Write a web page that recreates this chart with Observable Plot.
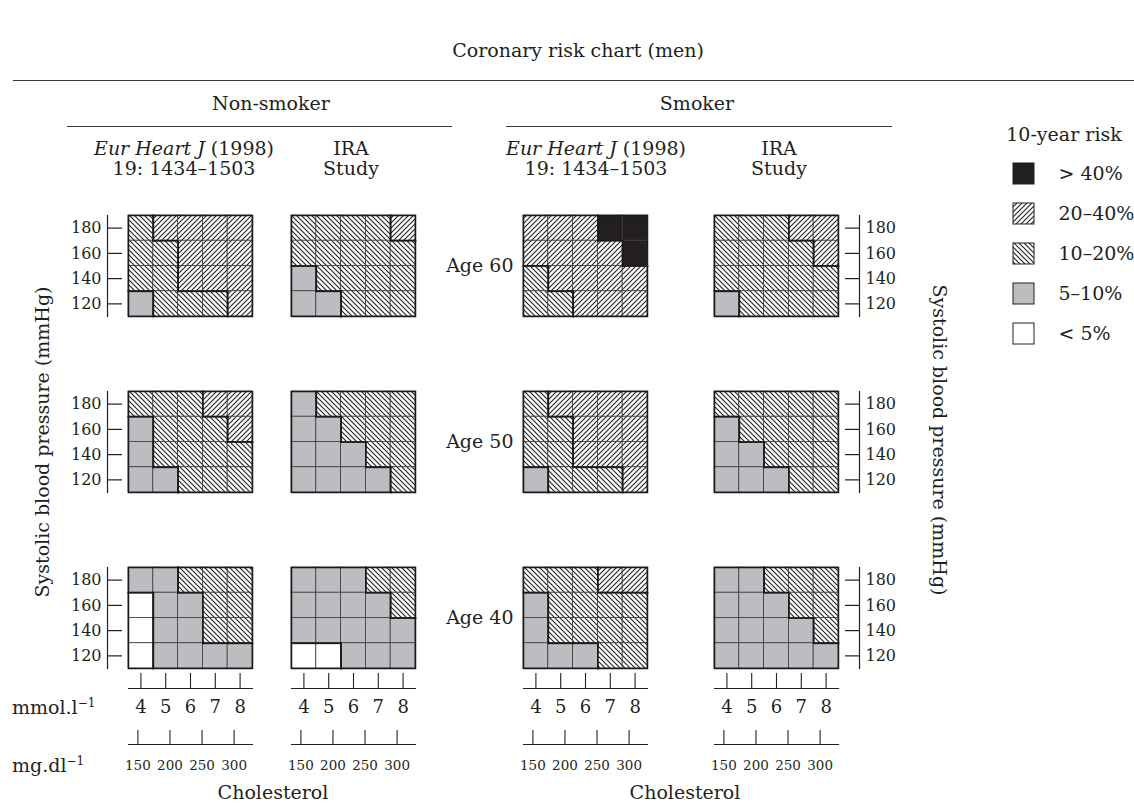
<!DOCTYPE html>
<html><head><meta charset="utf-8">
<script src="https://cdn.jsdelivr.net/npm/d3@7"></script>
<script src="https://cdn.jsdelivr.net/npm/@observablehq/plot@0.6"></script>
<style>
html,body{margin:0;padding:0;background:#fff;}
#root{position:relative;width:1134px;height:803px;overflow:hidden;font-family:"DejaVu Serif",serif;color:#231f20;background:#fff;}
.t{position:absolute;transform:translate(-50%,-50%);white-space:nowrap;font-size:19px;line-height:20px;text-align:center;}
.l{position:absolute;transform:translate(0,-50%);white-space:nowrap;font-size:19px;line-height:1;}
.hr{position:absolute;height:0;border-top:1.6px solid #3a3a3a;}
sup{font-size:12px;vertical-align:7px;line-height:0;}
</style></head><body>
<div id="root">
<svg width="0" height="0" style="position:absolute;left:0;top:0">
 <defs>
  <pattern id="hatch2040" patternUnits="userSpaceOnUse" width="5" height="5">
   <rect width="5" height="5" fill="#fff"/>
   <path d="M0,5L5,0M-1,1L1,-1M4,6L6,4" stroke="#231f20" stroke-width="1.1" fill="none"/>
  </pattern>
  <pattern id="hatch1020" patternUnits="userSpaceOnUse" width="5" height="5">
   <rect width="5" height="5" fill="#fff"/>
   <path d="M0,0L5,5M-1,4L1,6M4,-1L6,1" stroke="#231f20" stroke-width="1.1" fill="none"/>
  </pattern>
 </defs>
</svg>
<div class="t" style="left:578px;top:50px">Coronary risk chart (men)</div>
<div class="hr" style="left:13px;top:80px;width:1121px"></div>
<div class="t" style="left:271px;top:103px">Non-smoker</div>
<div class="t" style="left:697px;top:103px">Smoker</div>
<div class="hr" style="left:67px;top:126px;width:385px"></div>
<div class="hr" style="left:506px;top:126px;width:386px"></div>
<div class="t" style="left:184px;top:158px"><i>Eur Heart J</i> (1998)<br>19: 1434–1503</div>
<div class="t" style="left:351px;top:158px">IRA<br>Study</div>
<div class="t" style="left:596px;top:158px"><i>Eur Heart J</i> (1998)<br>19: 1434–1503</div>
<div class="t" style="left:779px;top:158px">IRA<br>Study</div>
<div class="t" style="left:1064px;top:134px">10-year risk</div>
<div class="t" style="left:42px;top:442px;transform:translate(-50%,-50%) rotate(-90deg)">Systolic blood pressure (mmHg)</div>
<div class="t" style="left:940px;top:440px;transform:translate(-50%,-50%) rotate(90deg)">Systolic blood pressure (mmHg)</div>
<div class="l" style="left:12px;top:707px">mmol.l<sup>−1</sup></div>
<div class="l" style="left:12px;top:765px">mg.dl<sup>−1</sup></div>
<div class="t" style="left:273px;top:792px">Cholesterol</div>
<div class="t" style="left:685px;top:792px">Cholesterol</div>
</div>
<script>
// ---------- data ----------
const cholesterol = [4, 5, 6, 7, 8];          // mmol/l
const sbp = [180, 160, 140, 120];             // mmHg, top to bottom
const ages = [60, 50, 40];
const mgTicks = [150, 200, 250, 300];         // mg/dl
const mgPerMmol = 38.67;
const riskCodes = ["B", "H", "M", "G", "W"];
const riskLabels = ["> 40%", "20–40%", "10–20%", "5–10%", "< 5%"];
// B: >40%, H: 20–40%, M: 10–20%, G: 5–10%, W: <5%  (rows: SBP 180→120, columns: chol 4→8)
const nonSmokerEur60 = ["MHHHH", "MMHHH", "MMHHH", "GMMMH"];
const nonSmokerEur50 = ["MMMHH", "GMMMH", "GMMMM", "GGMMM"];
const nonSmokerEur40 = ["GGMMM", "WGGMM", "WGGMM", "WGGGG"];
const nonSmokerIra60 = ["MMMMH", "MMMMM", "GMMMM", "GGMMM"];
const nonSmokerIra50 = ["GMMMM", "GGMMM", "GGGMM", "GGGGM"];
const nonSmokerIra40 = ["GGGMM", "GGGGM", "GGGGG", "WWGGG"];
const smokerEur60 = ["HHHBB", "HHHHB", "MHHHH", "MMHHH"];
const smokerEur50 = ["MHHHH", "MMHHH", "MMHHH", "GMMMH"];
const smokerEur40 = ["MMMHH", "GMMMM", "GMMMM", "GGGMM"];
const smokerIra60 = ["MMMHH", "MMMMH", "MMMMM", "GMMMM"];
const smokerIra50 = ["MMMMM", "GMMMM", "GGMMM", "GGGMM"];
const smokerIra40 = ["GGMMM", "GGGMM", "GGGGM", "GGGGG"];

// ---------- layout ----------
const root = document.getElementById("root");
const gridTop = 215, panelH = 101, panelGap = 75, gridW = 124;
const gridH = panelH * 3 + panelGap * 2;
const fills = {B: "#231f20", H: "url(#hatch2040)", M: "url(#hatch1020)", G: "#bcbdc0", W: "#ffffff"};
const colorScale = {domain: riskCodes, range: riskCodes.map(c => fills[c])};
const style = {fontFamily: "DejaVu Serif", fontSize: "16px", color: "#231f20", background: "transparent", overflow: "visible"};
const cholHalf = (cholesterol[1] - cholesterol[0]) / 2;
const sbpHalf = (sbp[0] - sbp[1]) / 2;
const xDomain = [d3.min(cholesterol) - cholHalf, d3.max(cholesterol) + cholHalf];
const yDomain = [d3.min(sbp) - sbpHalf, d3.max(sbp) + sbpHalf];

const columns = [
  {panels: {60: nonSmokerEur60, 50: nonSmokerEur50, 40: nonSmokerEur40}, left: 128, axis: "left"},
  {panels: {60: nonSmokerIra60, 50: nonSmokerIra50, 40: nonSmokerIra40}, left: 291, axis: null},
  {panels: {60: smokerEur60, 50: smokerEur50, 40: smokerEur40}, left: 523, axis: "age"},
  {panels: {60: smokerIra60, 50: smokerIra50, 40: smokerIra40}, left: 714, axis: "right"}
];

function place(svg, left, top) {
  svg.style.position = "absolute";
  svg.style.left = left + "px";
  svg.style.top = top + "px";
  root.appendChild(svg);
}

function buildCells(panels) {
  const cells = [], edges = [];
  for (const age of ages) {
    const rows = panels[age];
    rows.forEach((row, i) => {
      [...row].forEach((risk, j) => {
        cells.push({age, sbp: sbp[i], chol: cholesterol[j], risk});
        if (j < row.length - 1 && row[j + 1] !== risk) {
          const x = (cholesterol[j] + cholesterol[j + 1]) / 2;
          edges.push({age, x1: x, x2: x, y1: sbp[i] - sbpHalf, y2: sbp[i] + sbpHalf});
        }
        if (i < rows.length - 1 && rows[i + 1][j] !== risk) {
          const y = (sbp[i] + sbp[i + 1]) / 2;
          edges.push({age, x1: cholesterol[j] - cholHalf, x2: cholesterol[j] + cholHalf, y1: y, y2: y});
        }
      });
    });
  }
  return {cells, edges};
}

for (const col of columns) {
  const {cells, edges} = buildCells(col.panels);
  const mL = (col.axis === "left" || col.axis === "age") ? 90 : 6;
  const mR = col.axis === "right" ? 90 : 6;
  const mT = 6, mB = 6;
  const marks = [
    Plot.rect(cells, {
      x1: d => d.chol - cholHalf, x2: d => d.chol + cholHalf,
      y1: d => d.sbp - sbpHalf, y2: d => d.sbp + sbpHalf,
      fy: "age", fill: "risk", stroke: "#3d3d3d", strokeWidth: 0.8
    }),
    Plot.link(edges, {x1: "x1", y1: "y1", x2: "x2", y2: "y2", fy: "age", stroke: "#1a1a1a", strokeWidth: 1.8, strokeLinecap: "square"}),
    Plot.frame({stroke: "#1a1a1a", strokeWidth: 1.5})
  ];
  const yOpts = {domain: yDomain};
  const fyOpts = {domain: ages, paddingInner: panelGap / (panelH + panelGap), paddingOuter: 0};
  if (col.axis === "left") {
    marks.push(Plot.axisY({anchor: "left", ticks: sbp, tickSize: 15, tickPadding: 6, dx: -6, fontSize: 16, strokeWidth: 1.2, label: null}));
    marks.push(Plot.frame({anchor: "left", dx: -21, strokeWidth: 1.2}));
  } else if (col.axis === "right") {
    marks.push(Plot.axisY({anchor: "right", ticks: sbp, tickSize: 15, tickPadding: 6, dx: 6, fontSize: 16, strokeWidth: 1.2, label: null}));
    marks.push(Plot.frame({anchor: "right", dx: 21, strokeWidth: 1.2}));
  } else {
    yOpts.axis = null;
  }
  if (col.axis === "age") {
    marks.push(Plot.axisFy({anchor: "left", tickFormat: d => `Age ${d}`, tickSize: 0, tickPadding: 10, fontSize: 19, label: null}));
  } else {
    fyOpts.axis = null;
  }
  const svg = Plot.plot({
    width: mL + gridW + mR, height: mT + gridH + mB,
    marginLeft: mL, marginRight: mR, marginTop: mT, marginBottom: mB,
    x: {domain: xDomain, axis: null},
    y: yOpts,
    fy: fyOpts,
    color: colorScale,
    style,
    marks
  });
  place(svg, col.left - mL, gridTop - mT);

  // mmol/l axis
  const mmolSvg = Plot.plot({
    width: 20 + gridW + 20, height: 5 + 15 + 35,
    marginLeft: 20, marginRight: 20, marginTop: 5, marginBottom: 35,
    x: {domain: xDomain},
    style,
    marks: [
      Plot.tickX(cholesterol, {x: d => d, stroke: "#231f20", strokeWidth: 1.1}),
      Plot.frame({anchor: "bottom", strokeWidth: 1.2}),
      Plot.axisX({anchor: "bottom", ticks: cholesterol, tickFormat: d => String(d), tickSize: 0, tickPadding: 12, fontSize: 18, label: null})
    ]
  });
  place(mmolSvg, col.left - 20, 673 - 5);

  // mg/dl axis
  const mgSvg = Plot.plot({
    width: 20 + gridW + 20, height: 5 + 14 + 35,
    marginLeft: 20, marginRight: 20, marginTop: 5, marginBottom: 35,
    x: {domain: xDomain.map(v => v * mgPerMmol)},
    style,
    marks: [
      Plot.tickX(mgTicks, {x: d => d, stroke: "#231f20", strokeWidth: 1.1}),
      Plot.frame({anchor: "bottom", strokeWidth: 1.2}),
      Plot.axisX({anchor: "bottom", ticks: mgTicks, tickFormat: d => String(d), tickSize: 0, tickPadding: 16, fontSize: 13.5, label: null})
    ]
  });
  place(mgSvg, col.left - 20, 730 - 5);
}

// legend
const legendSvg = Plot.plot({
  width: 21 + 100, height: 5 + 182 + 5,
  marginLeft: 0, marginRight: 100, marginTop: 5, marginBottom: 5,
  x: {domain: ["swatch"], padding: 0, axis: null},
  y: {domain: riskCodes, paddingInner: 19.25 / 40.25, paddingOuter: 0},
  color: colorScale,
  style,
  marks: [
    Plot.cell(riskCodes, {x: () => "swatch", y: d => d, fill: d => d, stroke: "#231f20", strokeWidth: 1, inset: 0}),
    Plot.axisY({anchor: "right", tickSize: 0, tickPadding: 24, tickFormat: d => riskLabels[riskCodes.indexOf(d)], fontSize: 19, label: null})
  ]
});
place(legendSvg, 1013, 161.5 - 5);
</script>
</body></html>
